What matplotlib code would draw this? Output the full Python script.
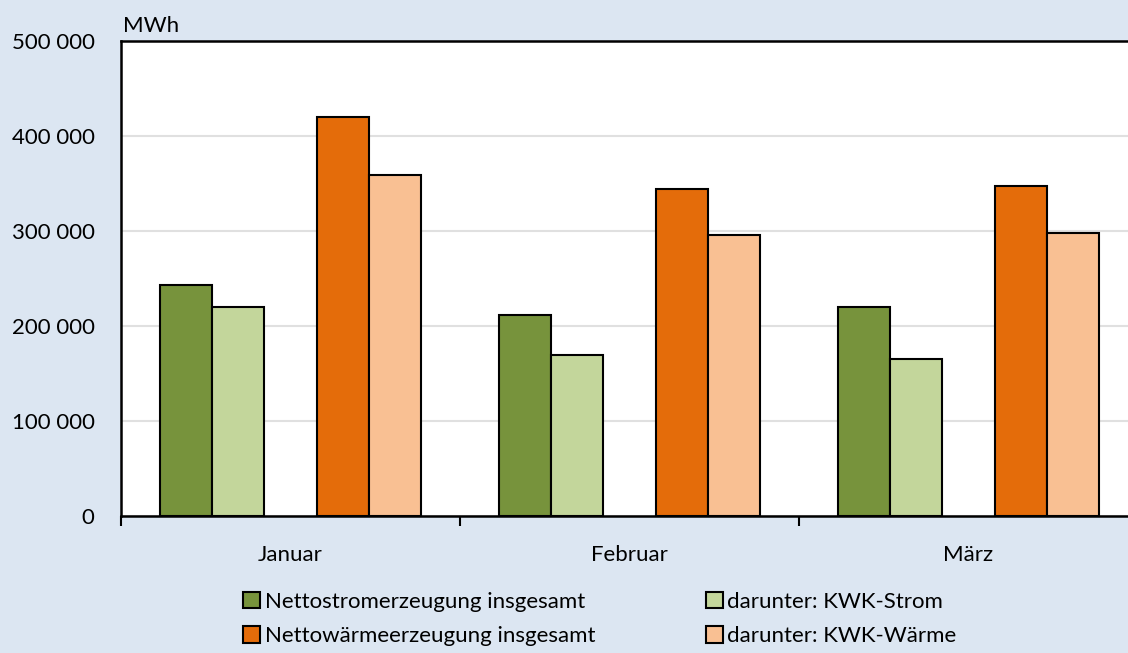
import matplotlib.pyplot as plt
import numpy as np

# Daten (MWh)
monate = ['Januar', 'Februar', 'März']
netto_strom = [242800, 211900, 219700]
kwk_strom = [220300, 169100, 165600]
netto_waerme = [420300, 344500, 347400]
kwk_waerme = [359300, 296100, 298200]

yticks = [0, 100000, 200000, 300000, 400000, 500000]
ytick_labels = ['0', '100 000', '200 000', '300 000', '400 000', '500 000']

plt.rcParams['font.family'] = ['Lato', 'DejaVu Sans']

bg = '#DCE6F2'
fig = plt.figure(figsize=(11.28, 6.53), dpi=100, facecolor=bg)
ax = fig.add_axes([121/1128, 137/653, 1017/1128, 475/653])
ax.set_facecolor('white')

x = np.arange(len(monate))
w = 0.1534
kw = dict(edgecolor='black', linewidth=1.5, zorder=3)
b1 = ax.bar(x - 2*w, netto_strom, w, color='#77933C', label='Nettostromerzeugung insgesamt', **kw)
b2 = ax.bar(x - w, kwk_strom, w, color='#C3D69B', label='darunter: KWK-Strom', **kw)
b3 = ax.bar(x + w, netto_waerme, w, color='#E46C0A', label='Nettowärmeerzeugung insgesamt', **kw)
b4 = ax.bar(x + 2*w, kwk_waerme, w, color='#F9C093', label='darunter: KWK-Wärme', **kw)

ax.set_xlim(-0.5, 2.5)
ax.set_ylim(0, 500000)
ax.set_yticks(yticks)
ax.set_yticklabels(ytick_labels, fontsize=16)
ax.tick_params(axis='y', length=0, pad=19)
ax.yaxis.grid(True, color='#E0E0E0', linewidth=1.5, zorder=0)
ax.set_axisbelow(True)

ax.set_xticks(x)
ax.set_xticklabels(monate, fontsize=16)
ax.tick_params(axis='x', which='major', length=0, pad=21)
ax.set_xticks([-0.5, 0.5, 1.5, 2.5], minor=True)
ax.tick_params(axis='x', which='minor', length=7, width=1.5, direction='out', color='black')

for s in ['left', 'top', 'bottom']:
    ax.spines[s].set_linewidth(1.8)
    ax.spines[s].set_color('black')
ax.spines['right'].set_visible(False)

ax.text(0.002, 1.01, 'MWh', transform=ax.transAxes, ha='left', va='bottom', fontsize=16)

fig.legend(handles=[b1, b3, b2, b4], ncol=2, loc='center', bbox_to_anchor=(600/1128, 34/653),
           frameon=False, fontsize=16, handlelength=0.75, handleheight=0.75, handletextpad=0.2,
           columnspacing=5.0, labelspacing=0.65, borderaxespad=0)

fig.savefig('out.png', dpi=100, facecolor=bg)
